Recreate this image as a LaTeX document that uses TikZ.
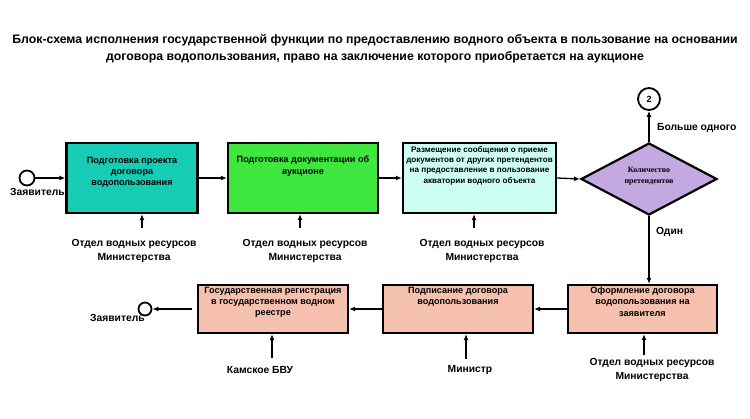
\documentclass[tikz,border=0pt]{standalone}
\usepackage{fontspec}
\setmainfont{Liberation Sans}
\newfontfamily\serifb{Liberation Serif}
\usetikzlibrary{arrows.meta,shapes.geometric}
\definecolor{cteal}{RGB}{22,204,180}
\definecolor{cgreen}{RGB}{62,230,62}
\definecolor{ccyan}{RGB}{204,255,242}
\definecolor{clav}{RGB}{195,168,225}
\definecolor{csalmon}{RGB}{246,192,175}
\tikzset{
  box/.style={draw=black, line width=2.2pt, inner sep=0pt},
  boxtxt/.style={anchor=north, align=center, inner sep=0pt, font=\bfseries\fontsize{9.1}{11.2}\selectfont},
  lbl/.style={align=center, inner sep=0pt, font=\bfseries\fontsize{10.3}{13.5}\selectfont},
  arr/.style={line width=1.3pt, -{Latex[length=6pt,width=5pt]}},
  term/.style={circle, draw=black, line width=1.8pt, inner sep=0pt, fill=white},
}
\begin{document}
\begin{tikzpicture}[x=1pt,y=-1pt]
\useasboundingbox[fill=white] (0,0) rectangle (750,418);
% title
\node[align=center, inner sep=0pt, font=\bfseries\fontsize{12.3}{16.5}\selectfont] (title) at (375,48.5)
  {Блок-схема исполнения государственной функции по предоставлению водного объекта в пользование на основании\\
   договора водопользования, право на заключение которого приобретается на аукционе};
% top row boxes
\node[box, fill=cteal, minimum width=131pt, minimum height=70pt] (b1) at (132,178) {};
\node[boxtxt] (t1) at (132,157) {Подготовка проекта\\договора\\водопользования};
\node[box, fill=cgreen, minimum width=150pt, minimum height=70pt] (b2) at (303,178) {};
\node[boxtxt] (t2) at (303,156) {Подготовка документации об\\аукционе};
\node[box, fill=ccyan, minimum width=153pt, minimum height=70pt] (b3) at (479.5,178) {};
\node[boxtxt, font=\bfseries\fontsize{8.1}{10.4}\selectfont] (t3) at (479.5,146) {Размещение сообщения о приеме\\документов от других претендентов\\на предоставление в пользование\\акватории водного объекта};
\node[diamond, draw=black, line width=2.2pt, fill=clav, minimum width=136pt, minimum height=72pt, inner sep=0pt] (d) at (649,179) {};
\node[align=center, inner sep=0pt, font=\serifb\bfseries\fontsize{8}{11.5}\selectfont] (dt) at (649,176) {Количество\\претендентов};
\node[term, minimum size=22pt, font=\bfseries\fontsize{9}{10}\selectfont] (c2) at (649,99) {2};
\node[lbl, anchor=west] (more) at (657,128) {Больше одного};
\node[lbl, anchor=west] (one) at (656,232) {Один};
% start terminal
\node[term, minimum size=15pt] (s1) at (27,178) {};
\node[lbl, anchor=west] (z1) at (10,192) {Заявитель};
% bottom row boxes
\node[box, fill=csalmon, minimum width=149pt, minimum height=48pt] (b4) at (642.5,309) {};
\node[boxtxt] (t4) at (642.5,287) {Оформление договора\\водопользования на\\заявителя};
\node[box, fill=csalmon, minimum width=150pt, minimum height=48pt] (b5) at (458,309) {};
\node[boxtxt] (t5) at (458,287) {Подписание договора\\водопользования};
\node[box, fill=csalmon, minimum width=150pt, minimum height=48pt] (b6) at (273,309) {};
\node[boxtxt] (t6) at (273,287) {Государственная регистрация\\в государственном водном\\реестре};
% end terminal
\node[term, minimum size=13pt] (e1) at (145,309) {};
\node[lbl, anchor=west] (z2) at (90,318) {Заявитель};
% responsible labels
\node[lbl] (l1) at (134,251) {Отдел водных ресурсов\\Министерства};
\node[lbl] (l2) at (305,251) {Отдел водных ресурсов\\Министерства};
\node[lbl] (l3) at (482,251) {Отдел водных ресурсов\\Министерства};
\node[lbl] (l4) at (652,370) {Отдел водных ресурсов\\Министерства};
\node[lbl] (l5) at (470,370) {Министр};
\node[lbl] (l6) at (260,370) {Камское БВУ};
\coordinate (a1) at (142,228);
\coordinate (a2) at (300,228);
\coordinate (a3) at (474,228);
\coordinate (a4) at (644,355);
\coordinate (a5) at (466,359);
\coordinate (a6) at (272,358);
\coordinate (g6) at (192,309);
% connectors
\draw[arr] (s1.east) -- (b1.west |- s1.east);
\draw[arr] (b1.east) -- (b2.west);
\draw[arr] (b2.east) -- (b3.west);
\draw[arr] (b3.east) -- (d.west);
\draw[arr] (d.north) -- (c2.south);
\draw[arr] (d.south) -- (d.south |- b4.north);
\draw[arr] (b4.west) -- (b5.east);
\draw[arr] (b5.west) -- (b6.east);
\draw[arr] (g6) -- (e1.east);
\draw[arr] (a1) -- (a1 |- b1.south);
\draw[arr] (a2) -- (a2 |- b2.south);
\draw[arr] (a3) -- (a3 |- b3.south);
\draw[arr] (a4) -- (a4 |- b4.south);
\draw[arr] (a5) -- (a5 |- b5.south);
\draw[arr] (a6) -- (a6 |- b6.south);
\end{tikzpicture}
\end{document}
